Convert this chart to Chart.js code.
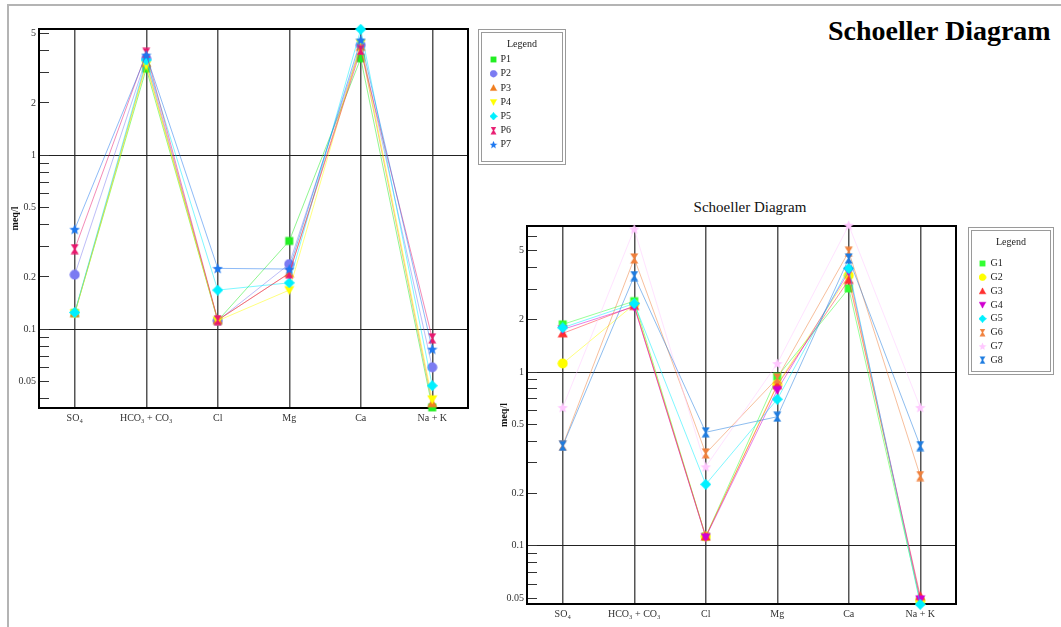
<!DOCTYPE html>
<html>
<head>
<meta charset="utf-8">
<title>Schoeller Diagram</title>
<script src="https://cdn.jsdelivr.net/npm/chart.js@4.4.1/dist/chart.umd.min.js"></script>
<style>
  body { margin: 0; background: #fff; width: 1061px; height: 627px; overflow: hidden; position: relative; }
  #frame { position: absolute; left: 7px; top: 4px; right: 0; bottom: 0; border-top: 2px solid #b4b4b4; border-left: 2px solid #b4b4b4; }
  canvas { position: absolute; }
  #chart1 { left: 0; top: 0; }
  #chart2 { left: 480px; top: 190px; }
  #bigTitle { position: absolute; left: 828px; top: 17px; font: bold 28px/28px 'Liberation Serif', serif; white-space: nowrap; color: #000; }
  #smallTitle { position: absolute; left: 650px; width: 200px; top: 200px; text-align: center; font: 15px/15px 'Liberation Serif', serif; color: #111; }
</style>
</head>
<body>
<div id="frame"></div>
<div id="bigTitle">Schoeller Diagram</div>
<div id="smallTitle">Schoeller Diagram</div>
<canvas id="chart1" width="575" height="430"></canvas>
<canvas id="chart2" width="581" height="436"></canvas>
<script>
// Schoeller diagrams - two log-scale line charts

const ions = ['SO₄', 'HCO₃ + CO₃', 'Cl', 'Mg', 'Ca', 'Na + K'];

// top chart: samples P1..P7 (meq/l)
const pNames = ['P1', 'P2', 'P3', 'P4', 'P5', 'P6', 'P7'];
const p1 = [0.124, 3.15, 0.112, 0.322, 3.61, 0.0356];
const p2 = [0.206, 3.6, 0.112, 0.237, 4.3, 0.0605];
const p3 = [0.124, 3.4, 0.113, 0.21, 4.2, 0.0376];
const p4 = [0.123, 3.3, 0.112, 0.168, 4.4, 0.0396];
const p5 = [0.125, 3.53, 0.168, 0.185, 5.3, 0.0474];
const p6 = [0.289, 3.88, 0.113, 0.21, 4.03, 0.0888];
const p7 = [0.376, 3.77, 0.224, 0.222, 4.6, 0.077];

// bottom chart: groups G1..G8 (meq/l)
const gNames = ['G1', 'G2', 'G3', 'G4', 'G5', 'G6', 'G7', 'G8'];
const g1 = [1.88, 2.56, 0.113, 0.94, 3.03, 0.048];
const g2 = [1.12, 2.45, 0.113, 0.85, 3.6, 0.048];
const g3 = [1.67, 2.40, 0.113, 0.84, 3.39, 0.0513];
const g4 = [1.76, 2.38, 0.112, 0.788, 3.78, 0.0491];
const g5 = [1.80, 2.48, 0.2256, 0.697, 3.95, 0.046];
const g6 = [0.378, 4.51, 0.34, 0.92, 4.93, 0.252];
const g7 = [0.626, 6.66, 0.285, 1.12, 7.0, 0.626];
const g8 = [0.376, 3.57, 0.45, 0.553, 4.51, 0.375];

// y axis ticks
const tickValues1 = [5, 4, 3, 2, 1, 0.9, 0.8, 0.7, 0.6, 0.5, 0.4, 0.3, 0.2, 0.1, 0.09, 0.08, 0.07, 0.06, 0.05, 0.04];
const tickValues2 = [6, 5, 4, 3, 2, 1, 0.9, 0.8, 0.7, 0.6, 0.5, 0.4, 0.3, 0.2, 0.1, 0.09, 0.08, 0.07, 0.06, 0.05];
const labelValues = [5, 2, 1, 0.5, 0.2, 0.1, 0.05];
const gridValues = [1, 0.1];

const pColors = ['#22ee22', '#7b7bf2', '#f07d1e', '#ffff00', '#00f0ff', '#e8186e', '#1e78f0'];
const pShapes = ['square', 'circle', 'triangle', 'triangleDown', 'diamond', 'hourglass', 'star'];
const gColors = ['#33ff33', '#ffff00', '#ff3030', '#d000d0', '#00f0ff', '#f0803c', '#ffc8ff', '#1e7ce0'];
const gShapes = ['square', 'circle', 'triangle', 'triangleDown', 'diamond', 'hourglass', 'star', 'hourglass'];

const serif = "'Liberation Serif', 'Times New Roman', serif";

function fade(hex, a) {
    const n = parseInt(hex.slice(1), 16);
    return `rgba(${(n >> 16) & 255}, ${(n >> 8) & 255}, ${n & 255}, ${a})`;
}

// little canvases used as point styles
function makeMarker(shape, color, s) {
    const c = document.createElement('canvas');
    c.width = s;
    c.height = s;
    const x = c.getContext('2d');
    const m = s / 2;
    x.fillStyle = color;
    x.beginPath();
    if (shape === 'square') {
        x.rect(1.5, 1.5, s - 3, s - 3);
    } else if (shape === 'circle') {
        x.arc(m, m, m - 0.5, 0, Math.PI * 2);
    } else if (shape === 'triangle') {
        x.moveTo(m, 0.5); x.lineTo(s - 0.5, s - 1.5); x.lineTo(0.5, s - 1.5);
    } else if (shape === 'triangleDown') {
        x.moveTo(0.5, 1.5); x.lineTo(s - 0.5, 1.5); x.lineTo(m, s - 0.5);
    } else if (shape === 'diamond') {
        x.moveTo(m, 0); x.lineTo(s, m); x.lineTo(m, s); x.lineTo(0, m);
    } else if (shape === 'hourglass') {
        x.moveTo(1.5, 0.5); x.lineTo(s - 1.5, 0.5); x.lineTo(m + 0.8, m);
        x.lineTo(s - 1.5, s - 0.5); x.lineTo(1.5, s - 0.5); x.lineTo(m - 0.8, m);
    } else if (shape === 'star') {
        for (let k = 0; k < 10; k++) {
            const r = k % 2 === 0 ? m : m * 0.45;
            const ang = -Math.PI / 2 + k * Math.PI / 5;
            const px = m + r * Math.cos(ang);
            const py = m + 0.6 + r * Math.sin(ang);
            if (k === 0) x.moveTo(px, py); else x.lineTo(px, py);
        }
    }
    x.closePath();
    x.fill();
    return c;
}

function makeSets(names, values, colors, shapes) {
    return names.map((name, i) => ({
        label: name,
        data: values[i],
        borderColor: fade(colors[i], 0.5),
        backgroundColor: colors[i],
        borderWidth: 1,
        pointStyle: makeMarker(shapes[i], colors[i], 11),
        pointRadius: 5,
        pointHoverRadius: 5,
        tension: 0,
        clip: false,
        order: names.length - i
    }));
}

// black box round the plot area
const framePlugin = {
    id: 'frame',
    beforeDatasetsDraw(chart) {
        const { ctx, chartArea: a } = chart;
        ctx.save();
        ctx.strokeStyle = '#000';
        ctx.lineWidth = 2;
        ctx.strokeRect(a.left, a.top, a.width, a.height);
        ctx.restore();
    }
};

// boxed legend with a "Legend" heading
const boxLegendPlugin = {
    id: 'boxLegend',
    afterDraw(chart, args, opts) {
        const { ctx, chartArea: a } = chart;
        const bx = Math.round(a.right + opts.dx) + 0.5;
        const by = Math.round(a.top + opts.dy) + 0.5;
        ctx.save();
        ctx.strokeStyle = '#9a9a9a';
        ctx.lineWidth = 1;
        ctx.strokeRect(bx, by, opts.width, opts.height);
        ctx.strokeRect(bx + 3, by + 3, opts.width - 6, opts.height - 6);
        ctx.fillStyle = '#222';
        ctx.font = '10px ' + serif;
        ctx.textBaseline = 'middle';
        ctx.textAlign = 'center';
        ctx.fillText('Legend', bx + opts.width / 2, by + opts.titleY);
        ctx.textAlign = 'left';
        chart.data.datasets.forEach((ds, i) => {
            const y = by + opts.firstY + i * opts.step;
            ctx.drawImage(ds.pointStyle, bx + opts.markerX - 4, y - 4, 8, 8);
            ctx.fillText(ds.label, bx + opts.textX, y);
        });
        ctx.restore();
    }
};

function yAxis(min, max, ticksList, width, titlePad) {
    return {
        type: 'logarithmic',
        min: min,
        max: max,
        afterBuildTicks: (scale) => { scale.ticks = ticksList.map(v => ({ value: v })); },
        afterFit: (scale) => { scale.width = width; },
        border: { display: false },
        grid: {
            tickLength: -10,
            tickColor: '#333',
            lineWidth: 1,
            color: (c) => (c.tick && gridValues.includes(c.tick.value)) ? '#222' : 'rgba(0,0,0,0)'
        },
        ticks: {
            autoSkip: false,
            padding: 13,
            color: '#333',
            font: { family: serif, size: 10 },
            callback: (v) => labelValues.includes(v) ? String(v) : ''
        },
        title: {
            display: true,
            text: 'meq/l',
            color: '#111',
            padding: { top: titlePad, bottom: 0 },
            font: { family: serif, size: 10, weight: 'bold' }
        }
    };
}

function xAxis() {
    return {
        type: 'category',
        offset: true,
        afterFit: (scale) => { scale.height = 22; },
        border: { display: false },
        grid: { offset: false, color: '#555', lineWidth: 1.5, drawTicks: false },
        ticks: {
            autoSkip: false,
            maxRotation: 0,
            padding: 4,
            color: '#333',
            font: { family: serif, size: 10 }
        }
    };
}

function makeChart(id, names, values, colors, shapes, yCfg, padding, legendCfg) {
    return new Chart(document.getElementById(id).getContext('2d'), {
        type: 'line',
        data: { labels: ions, datasets: makeSets(names, values, colors, shapes) },
        options: {
            responsive: false,
            animation: false,
            layout: { padding: padding },
            plugins: {
                legend: { display: false },
                tooltip: { enabled: false },
                boxLegend: legendCfg
            },
            scales: { x: xAxis(), y: yCfg }
        },
        plugins: [framePlugin, boxLegendPlugin]
    });
}

makeChart('chart1', pNames, [p1, p2, p3, p4, p5, p6, p7], pColors, pShapes,
    yAxis(0.0353, 5.32, tickValues1, 39, 9),
    { top: 29, right: 107, bottom: 0, left: 0 },
    { dx: 10, dy: 0, width: 87, height: 135, titleY: 15, firstY: 30, step: 14.2, markerX: 15, textX: 22 });

makeChart('chart2', gNames, [g1, g2, g3, g4, g5, g6, g7, g8], gColors, gShapes,
    yAxis(0.0462, 6.93, tickValues2, 47, 18),
    { top: 36, right: 105, bottom: 0, left: 0 },
    { dx: 12, dy: 1, width: 85, height: 147, titleY: 15, firstY: 36, step: 13.8, markerX: 14, textX: 22 });
</script>
</body>
</html>
